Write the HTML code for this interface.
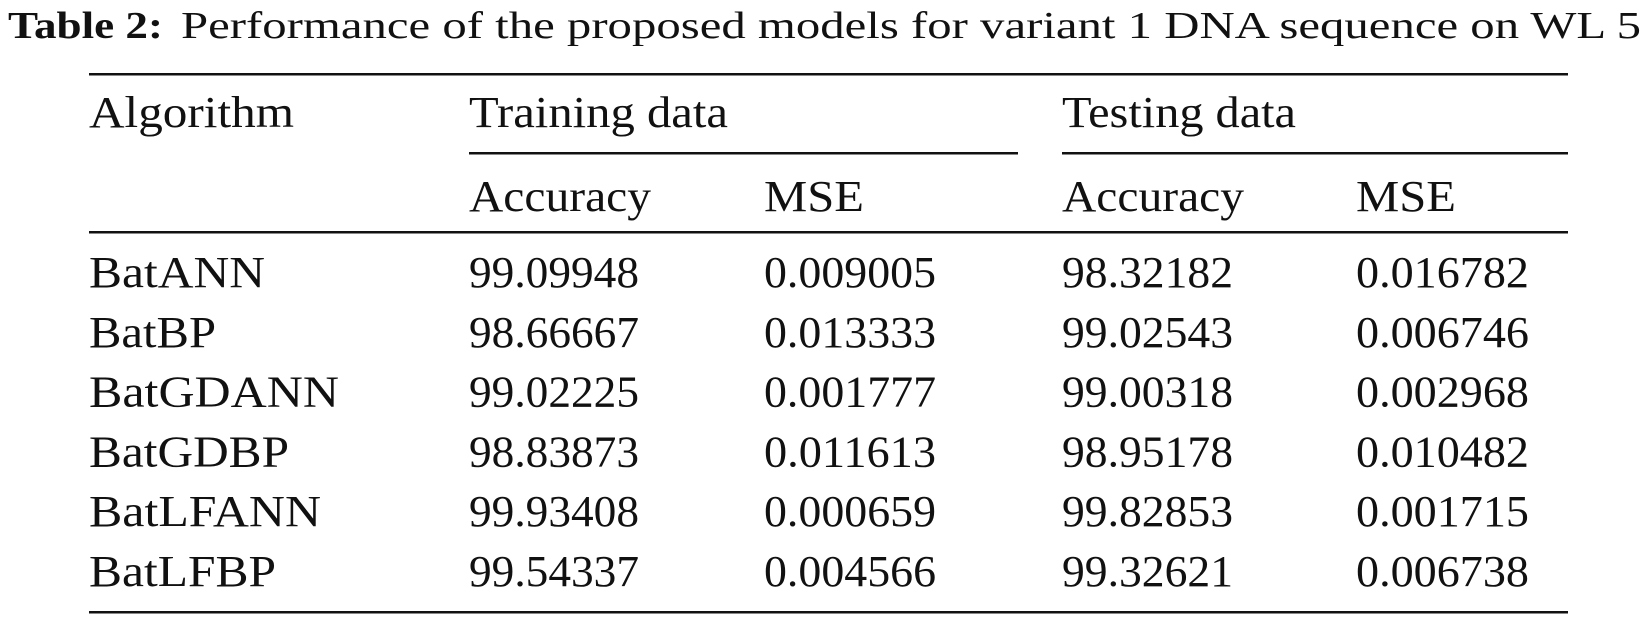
<!DOCTYPE html>
<html><head><meta charset="utf-8"><style>
html,body{margin:0;padding:0;background:#fff;width:1646px;height:617px;overflow:hidden}
svg text{font-family:"Liberation Serif",serif;fill:#111}
</style></head><body>
<svg width="1646" height="617" viewBox="0 0 1646 617">
<text x="8" y="38" font-size="38" font-weight="bold" textLength="155" lengthAdjust="spacingAndGlyphs">Table 2:</text>
<text x="181" y="38" font-size="38" textLength="1460" lengthAdjust="spacingAndGlyphs">Performance of the proposed models for variant 1 DNA sequence on WL 5</text>
<rect x="89" y="73" width="1479" height="2.5" fill="#111"/>
<text x="89" y="127" font-size="44" textLength="205" lengthAdjust="spacingAndGlyphs">Algorithm</text>
<text x="469" y="127" font-size="44" textLength="259" lengthAdjust="spacingAndGlyphs">Training data</text>
<text x="1062" y="127" font-size="44" textLength="234" lengthAdjust="spacingAndGlyphs">Testing data</text>
<rect x="469" y="152" width="549" height="2.5" fill="#111"/>
<rect x="1062" y="152" width="506" height="2.5" fill="#111"/>
<text x="469" y="211" font-size="44" textLength="182" lengthAdjust="spacingAndGlyphs">Accuracy</text>
<text x="764" y="211" font-size="44" textLength="100" lengthAdjust="spacingAndGlyphs">MSE</text>
<text x="1062" y="211" font-size="44" textLength="182" lengthAdjust="spacingAndGlyphs">Accuracy</text>
<text x="1356" y="211" font-size="44" textLength="100" lengthAdjust="spacingAndGlyphs">MSE</text>
<rect x="89" y="231" width="1479" height="2.5" fill="#111"/>
<g id="rows"></g>
<rect x="89" y="611" width="1479" height="2.5" fill="#111"/>
</svg>
<script>
const algorithms=["BatANN","BatBP","BatGDANN","BatGDBP","BatLFANN","BatLFBP"];
const trainAcc=["99.09948","98.66667","99.02225","98.83873","99.93408","99.54337"];
const trainMse=["0.009005","0.013333","0.001777","0.011613","0.000659","0.004566"];
const testAcc=["98.32182","99.02543","99.00318","98.95178","99.82853","99.32621"];
const testMse=["0.016782","0.006746","0.002968","0.010482","0.001715","0.006738"];
const nameW=[176,127,250,200,232,187];
const g=document.getElementById('rows');
const NS="http://www.w3.org/2000/svg";
const cols=[89,469,764,1062,1356];
function cell(x,y,t,w,name){
  const e=document.createElementNS(NS,'text');
  e.setAttribute('x',x);e.setAttribute('y',y);e.setAttribute('font-size','44');
  e.setAttribute('textLength',w);e.setAttribute('lengthAdjust','spacingAndGlyphs');
  
  
  e.textContent=t;g.appendChild(e);
}
algorithms.forEach((a,i)=>{
  const y=287+i*59.8;
  cell(cols[0],y,a,nameW[i],'algorithm-name');
  cell(cols[1],y,trainAcc[i],170,'train-accuracy');
  cell(cols[2],y,trainMse[i],172,'train-mse');
  cell(cols[3],y,testAcc[i],171,'test-accuracy');
  cell(cols[4],y,testMse[i],173,'test-mse');
});
</script>
</body></html>
